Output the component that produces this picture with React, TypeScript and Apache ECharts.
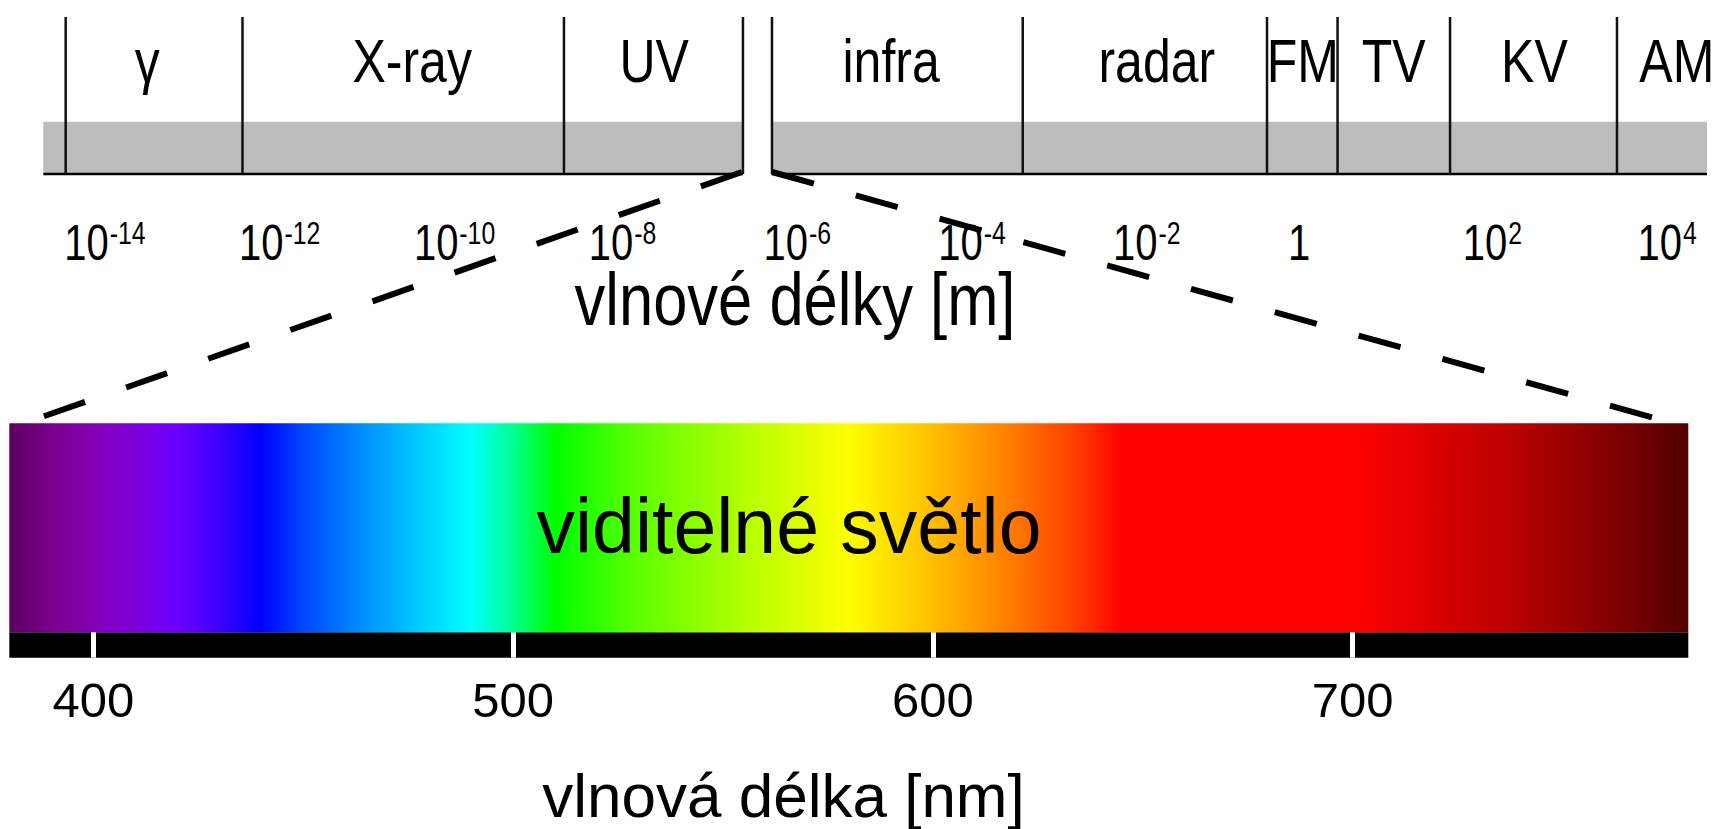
import React, { useEffect, useRef } from 'react';
import * as echarts from 'echarts';

// ---- data (top: log10 of wavelength in metres) ----
const bandNames = ['γ', 'X-ray', 'UV', 'infra', 'radar', 'FM', 'TV', 'KV', 'AM'];
const bandLabelExp = [-13.05, -10.02, -7.25, -4.54, -1.5, 0.17, 1.21, 2.82, 4.45];
const boundaryExp = [-13.984, -11.961, -8.283, -6.235, -5.903, -3.034, -0.239, 0.568, 1.855, 3.765];
const segmentExp = [
  [-14.24, -6.235],
  [-5.903, 4.795],
];
const tickExp = [-14, -12, -10, -8, -6, -4, -2, 0, 2, 4];
const topRange = [-14.24, 4.795];
const linkExp = [-6.235, -5.903];

// ---- data (bottom: visible light, nm) ----
const nmRange = [380, 780];
const nmTicks = [400, 500, 600, 700];
const linkNm = [387, 772];
const stopNm = [380, 390, 400, 410, 420, 430, 440, 450, 465, 480, 490, 500, 510, 530, 555, 580, 600, 620, 635, 645, 700, 720, 740, 760, 780];
const stopColor = [
  '#5c005c', '#78008c', '#8300b5', '#7e00db', '#6a00ff', '#3d00ff', '#0000ff', '#0046ff', '#0092ff',
  '#00d5ff', '#00ffff', '#00ff92', '#00ff00', '#5eff00', '#b3ff00', '#ffff00', '#ffbe00', '#ff7700',
  '#ff3900', '#ff0000', '#ff0000', '#db0000', '#b50000', '#850000', '#520000',
];

const FONT = "'Liberation Sans', Arial, sans-serif";
const NARROW_X = 0.82;

export default function App() {
  const ref = useRef<HTMLDivElement>(null);

  useEffect(() => {
    if (!ref.current) return;
    const chart = echarts.init(ref.current, undefined, { renderer: 'svg' });
    const bandTop = 0.333;
    const labelRow = 0.72;
    const tickRow = -0.436;
    const supRow = -0.38;

    const gradient = new echarts.graphic.LinearGradient(
      0, 0, 1, 0,
      stopNm.map((nm, i) => ({
        offset: (nm - nmRange[0]) / (nmRange[1] - nmRange[0]),
        color: stopColor[i],
      }))
    );

    const baseSize = 50;
    const supSize = 31;
    const tickScale = 0.8;

    chart.setOption({
      animation: false,
      backgroundColor: '#ffffff',
      grid: [
        { left: 43.3, width: 1663.7, top: 17, height: 157, containLabel: false },
        { left: 9.3, width: 1679, top: 423.3, height: 209, containLabel: false },
        { left: 9.3, width: 1679, top: 632.3, height: 25.4, show: true, backgroundColor: '#000', borderWidth: 0, containLabel: false },
      ],
      xAxis: [
        { gridIndex: 0, type: 'value', min: topRange[0], max: topRange[1], show: false },
        { gridIndex: 1, type: 'value', min: nmRange[0], max: nmRange[1], show: false },
        {
          gridIndex: 2, type: 'value', min: nmRange[0], max: nmRange[1], position: 'bottom', z: 5,
          axisLine: { show: false },
          splitLine: { show: false },
          axisTick: { customValues: nmTicks, inside: true, length: 25.4, lineStyle: { color: '#fff', width: 5 } },
          axisLabel: { customValues: nmTicks, margin: 18, fontSize: 49, fontFamily: FONT, color: '#000' },
        },
      ],
      yAxis: [
        { gridIndex: 0, type: 'value', min: 0, max: 1, show: false },
        { gridIndex: 1, type: 'value', min: 0, max: 1, show: false },
        { gridIndex: 2, type: 'value', min: 0, max: 1, show: false },
      ],
      series: [
        {
          type: 'custom', xAxisIndex: 0, yAxisIndex: 0, silent: true, clip: false, z: 2,
          data: segmentExp,
          renderItem: (params: any, api: any) => {
            const p0 = api.coord([api.value(0), bandTop]);
            const p1 = api.coord([api.value(1), 0]);
            return {
              type: 'group',
              children: [
                { type: 'rect', shape: { x: p0[0], y: p0[1], width: p1[0] - p0[0], height: p1[1] - p0[1] }, style: { fill: '#bdbdbd' } },
                { type: 'line', shape: { x1: p0[0], y1: p1[1], x2: p1[0], y2: p1[1] }, style: { stroke: '#000', lineWidth: 2.5 } },
              ],
            };
          },
        },
        {
          type: 'custom', xAxisIndex: 0, yAxisIndex: 0, silent: true, clip: false, z: 3,
          data: boundaryExp.map((b) => [b]),
          renderItem: (params: any, api: any) => {
            const a = api.coord([api.value(0), 0]);
            const b = api.coord([api.value(0), 1]);
            return { type: 'line', shape: { x1: a[0], y1: a[1], x2: b[0], y2: b[1] }, style: { stroke: '#111', lineWidth: 2.5 } };
          },
        },
        {
          type: 'custom', xAxisIndex: 0, yAxisIndex: 0, silent: true, clip: false, z: 4,
          data: bandLabelExp.map((p, i) => [p, i]),
          renderItem: (params: any, api: any) => {
            const p = api.coord([api.value(0), labelRow]);
            return {
              type: 'text', x: p[0], y: p[1], scaleX: NARROW_X, scaleY: 1,
              style: { text: bandNames[api.value(1)], fontSize: 61, fontFamily: FONT, fill: '#000', align: 'center', verticalAlign: 'middle' },
            };
          },
        },
        {
          // tick labels of the top (log) axis: 10^e
          type: 'custom', xAxisIndex: 0, yAxisIndex: 0, silent: true, clip: false, z: 4,
          data: tickExp.map((e) => [e, 0]),
          renderItem: (params: any, api: any) => {
            const e = api.value(0);
            const p = api.coord([e, tickRow]);
            const q = api.coord([e, supRow]);
            if (Math.round(e) === 0) {
              return {
                type: 'text', x: p[0], y: p[1], scaleX: tickScale, scaleY: 1,
                style: { text: '1', fontSize: baseSize, fontFamily: FONT, fill: '#000', align: 'left', verticalAlign: 'middle' },
              };
            }
            const baseW = 2 * 0.556 * baseSize * tickScale;
            return {
              type: 'group',
              children: [
                {
                  type: 'text', x: p[0], y: p[1], scaleX: tickScale, scaleY: 1,
                  style: { text: '10', fontSize: baseSize, fontFamily: FONT, fill: '#000', align: 'left', verticalAlign: 'middle' },
                },
                {
                  type: 'text', x: q[0] + baseW + 1, y: q[1], scaleX: tickScale, scaleY: 1,
                  style: { text: String(Math.round(e)), fontSize: supSize, fontFamily: FONT, fill: '#000', align: 'left', verticalAlign: 'middle' },
                },
              ],
            };
          },
        },
        {
          type: 'custom', xAxisIndex: 1, yAxisIndex: 1, silent: true, clip: false, z: 2,
          data: [nmRange],
          renderItem: (params: any, api: any) => {
            const p0 = api.coord([api.value(0), 1]);
            const p1 = api.coord([api.value(1), 0]);
            return { type: 'rect', shape: { x: p0[0], y: p0[1], width: p1[0] - p0[0], height: p1[1] - p0[1] }, style: { fill: gradient } };
          },
        },
      ],
    });

    const t0 = chart.convertToPixel({ gridIndex: 0 }, [linkExp[0], 0]) as number[];
    const t1 = chart.convertToPixel({ gridIndex: 0 }, [linkExp[1], 0]) as number[];
    const b0 = chart.convertToPixel({ gridIndex: 1 }, [linkNm[0], 1.025]) as number[];
    const b1 = chart.convertToPixel({ gridIndex: 1 }, [linkNm[1], 1.025]) as number[];

    chart.setOption({
      graphic: {
        elements: [
          { type: 'line', z: 50, silent: true, shape: { x1: t0[0] - 1, y1: t0[1] - 2, x2: b0[0], y2: b0[1] }, style: { stroke: '#000', lineWidth: 6, lineDash: [43.5, 43.5] } },
          { type: 'line', z: 50, silent: true, shape: { x1: t1[0], y1: t1[1] - 2, x2: b1[0], y2: b1[1] }, style: { stroke: '#000', lineWidth: 6, lineDash: [43.5, 43.5] } },
          { type: 'text', z: 100, silent: true, x: 795, y: 299, scaleX: NARROW_X, scaleY: 1, style: { text: 'vlnové délky [m]', fontSize: 75, fontFamily: FONT, fill: '#000', align: 'center', verticalAlign: 'middle' } },
          { type: 'text', z: 100, silent: true, x: 789, y: 526, style: { text: 'viditelné světlo', fontSize: 77, fontFamily: FONT, fill: '#000', align: 'center', verticalAlign: 'middle' } },
          { type: 'text', z: 100, silent: true, x: 783.5, y: 795.5, style: { text: 'vlnová délka [nm]', fontSize: 62, fontFamily: FONT, fill: '#000', align: 'center', verticalAlign: 'middle' } },
        ],
      },
    });

    return () => chart.dispose();
  }, []);

  return (
    <div
      ref={ref}
      style={{ position: 'fixed', left: 0, top: 0, width: '1717px', height: '829px', background: '#fff' }}
    />
  );
}
